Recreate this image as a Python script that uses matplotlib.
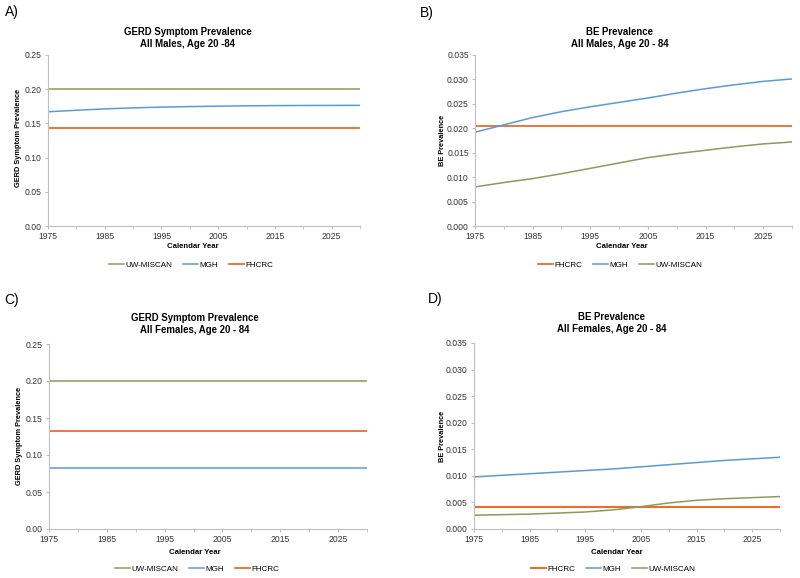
import numpy as np
import matplotlib
matplotlib.use('Agg')
import matplotlib.pyplot as plt

plt.rcParams['font.family'] = ['Liberation Sans', 'DejaVu Sans']

years = [1975, 1980, 1985, 1990, 1995, 2000, 2005, 2010, 2015, 2020, 2025, 2030]

# A) GERD, males
gerd_m_uw = [0.200] * 12
gerd_m_mgh = [0.167, 0.1692, 0.1712, 0.1727, 0.1738, 0.1746, 0.1752, 0.1757, 0.1760, 0.1762, 0.1763, 0.1764]
gerd_m_fh = [0.143] * 12

# B) BE, males
be_m_fh = [0.0204] * 12
be_m_mgh = [0.0192, 0.0207, 0.0222, 0.0234, 0.0244, 0.0253, 0.0262, 0.0272, 0.0281, 0.0289, 0.0296, 0.0301]
be_m_uw = [0.0080, 0.0089, 0.0097, 0.0107, 0.0118, 0.0129, 0.0140, 0.0148, 0.0155, 0.0162, 0.0168, 0.0172]

# C) GERD, females
gerd_f_uw = [0.200] * 12
gerd_f_mgh = [0.083] * 12
gerd_f_fh = [0.132] * 12

# D) BE, females
be_f_fh = [0.0041] * 12
be_f_mgh = [0.0098, 0.0101, 0.0104, 0.0107, 0.0110, 0.0113, 0.0117, 0.0121, 0.0125, 0.0129, 0.0132, 0.0135]
be_f_uw = [0.0026, 0.0027, 0.0028, 0.0030, 0.0032, 0.0036, 0.0042, 0.0049, 0.0054, 0.0057, 0.0059, 0.0061]

c_uw = '#8c9a5e'
c_mgh = '#5b9bd5'
c_fh = '#e8702a'
grey = '#bfbfbf'

fig = plt.figure(figsize=(8, 5.78), dpi=100)


def setup(ax, ymax, ystep, fmt):
    ax.set_xlim(1975, 2030)
    ax.set_ylim(0, ymax)
    ax.set_xticks(range(1975, 2030, 10))
    ax.set_xticks(range(1980, 2031, 10), minor=True)
    ax.set_yticks(np.arange(0, ymax + ystep / 2, ystep))
    ax.yaxis.set_major_formatter(matplotlib.ticker.FormatStrFormatter(fmt))
    for s in ['top', 'right']:
        ax.spines[s].set_visible(False)
    for s in ['left', 'bottom']:
        ax.spines[s].set_color(grey)
        ax.spines[s].set_linewidth(0.8)
    ax.tick_params(axis='x', which='both', length=2.5, color=grey, labelsize=6.2,
                   labelcolor='#333333', pad=1.5)
    ax.tick_params(axis='y', length=2.5, color=grey, labelsize=6.2,
                   labelcolor='#333333', pad=2)


def legend(ax, handles, labels, x, y):
    fig.legend(handles, labels, loc='center', bbox_to_anchor=(x / 800, 1 - y / 578),
               ncol=3, frameon=False, fontsize=5.8, handlelength=1.9,
               columnspacing=1.3, handletextpad=0.15)


def texts(title, tx, ty, ylab, yx, yy, xx, xy):
    fig.text(tx / 800, 1 - ty / 578, title, ha='center', va='center',
             fontsize=6.9, fontweight='bold', linespacing=1.2)
    fig.text(yx / 800, 1 - yy / 578, ylab, ha='center', va='center',
             rotation=90, fontsize=5.3, fontweight='bold')
    fig.text(xx / 800, 1 - xy / 578, 'Calendar Year', ha='center', va='center',
             fontsize=5.6, fontweight='bold')


# A
axA = fig.add_axes([48 / 800, 1 - 226 / 578, 312 / 800, 171 / 578])
l1, = axA.plot(years, gerd_m_uw, color=c_uw, lw=1.1)
l2, = axA.plot(years, gerd_m_mgh, color=c_mgh, lw=1.1)
l3, = axA.plot(years, gerd_m_fh, color=c_fh, lw=1.3)
setup(axA, 0.25, 0.05, '%.2f')
texts('GERD Symptom Prevalence\nAll Males, Age 20 -84', 188, 38,
      'GERD Symptom Prevalence', 19, 138, 193, 246)
legend(axA, [l1, l2, l3], ['UW-MISCAN', 'MGH', 'FHCRC'], 191, 265)

# B
axB = fig.add_axes([475 / 800, 1 - 226 / 578, 317 / 800, 171 / 578])
l1, = axB.plot(years, be_m_fh, color=c_fh, lw=1.3)
l2, = axB.plot(years, be_m_mgh, color=c_mgh, lw=1.1)
l3, = axB.plot(years, be_m_uw, color=c_uw, lw=1.1)
setup(axB, 0.035, 0.005, '%.3f')
texts('BE Prevalence\nAll Males, Age 20 - 84', 620, 38,
      'BE Prevalence', 442, 140, 622, 247)
legend(axB, [l1, l2, l3], ['FHCRC', 'MGH', 'UW-MISCAN'], 620, 265)

# C
axC = fig.add_axes([49 / 800, 1 - 529 / 578, 318 / 800, 185 / 578])
l1, = axC.plot(years, gerd_f_uw, color=c_uw, lw=1.1)
l2, = axC.plot(years, gerd_f_mgh, color=c_mgh, lw=1.1)
l3, = axC.plot(years, gerd_f_fh, color=c_fh, lw=1.3)
setup(axC, 0.25, 0.05, '%.2f')
texts('GERD Symptom Prevalence\nAll Females, Age 20 - 84', 195, 324,
      'GERD Symptom Prevalence', 20, 436, 195, 552)
legend(axC, [l1, l2, l3], ['UW-MISCAN', 'MGH', 'FHCRC'], 197, 569)

# D
axD = fig.add_axes([474 / 800, 1 - 529 / 578, 306 / 800, 186 / 578])
l1, = axD.plot(years, be_f_fh, color=c_fh, lw=1.5)
l2, = axD.plot(years, be_f_mgh, color=c_mgh, lw=1.1)
l3, = axD.plot(years, be_f_uw, color=c_uw, lw=1.1)
setup(axD, 0.035, 0.005, '%.3f')
texts('BE Prevalence\nAll Females, Age 20 - 84', 612, 323,
      'BE Prevalence', 442, 436, 617, 552)
legend(axD, [l1, l2, l3], ['FHCRC', 'MGH', 'UW-MISCAN'], 613, 569)

# panel letters
for lab, x, y in [('A)', 12, 12), ('B)', 427, 13), ('C)', 12, 300), ('D)', 435, 299)]:
    fig.text(x / 800, 1 - y / 578, lab, ha='center', va='center', fontsize=10)

fig.savefig('out.png', dpi=100)
